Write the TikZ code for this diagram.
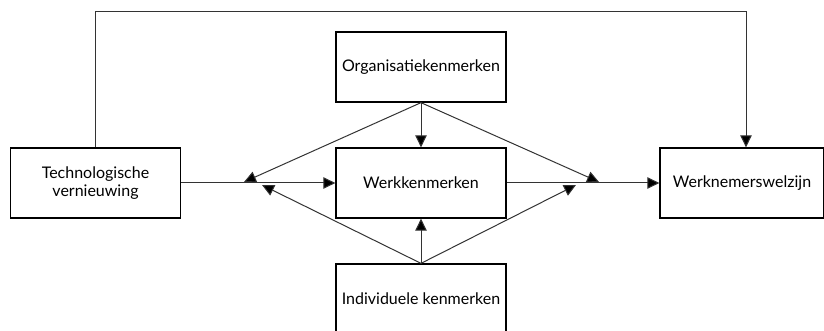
\documentclass[tikz,border=0pt]{standalone}
\usepackage{fontspec}
\setmainfont{Lato}
\usetikzlibrary{arrows.meta}
\definecolor{linecolor}{HTML}{333333}
\tikzset{
  kader/.style={draw=black, line width=1.3pt, minimum width=170pt, minimum height=70pt,
    align=center, inner sep=0pt, font=\fontsize{16}{17.5}\selectfont},
  pijl/.style={draw=linecolor, line width=1pt, -{Triangle[length=12pt,width=11.5pt,fill=black]}},
  lijn/.style={draw=linecolor, line width=1pt}
}
\begin{document}
\begin{tikzpicture}[x=1pt, y=-1pt]
  \useasboundingbox (0,0) rectangle (824,331);

  % boxes
  \node[kader] (tech) at (95.5,183) {Technologische\\vernieuwing};
  \node[kader] (org) at (421,67) {Organisatiekenmerken};
  \node[kader] (werk) at (421,183) {Werkkenmerken};
  \node[kader] (indiv) at (421,299) {Individuele kenmerken};
  \node[kader, minimum width=164pt] (welzijn) at (742,183) {Werknemerswelzijn};

  % junction points on the main line
  \coordinate (linkso) at (244,182);
  \coordinate (linksi) at (262,185);
  \coordinate (rechtso) at (599,182);
  \coordinate (rechtsi) at (576,185);
  \coordinate (boven) at (746,12);

  % main line
  \draw[pijl] (tech.east) -- (werk.west);
  \draw[pijl] (werk.east) -- (welzijn.west);
  \draw[pijl] (tech.north) |- (boven) -- (boven |- welzijn.north);

  % moderators
  \draw[pijl] (org.south) -- (werk.north);
  \draw[pijl] (indiv.north) -- (werk.south);
  \draw[pijl] (org.south) -- (linkso);
  \draw[pijl] (org.south) -- (rechtso);
  \draw[pijl] (indiv.north) -- (linksi);
  \draw[pijl] (indiv.north) -- (rechtsi);
\end{tikzpicture}
\end{document}
